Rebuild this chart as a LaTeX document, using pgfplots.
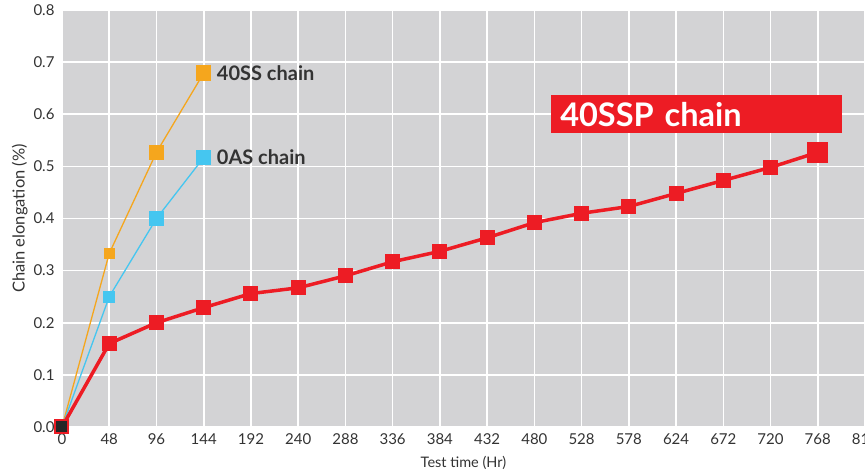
\documentclass[border=0pt]{standalone}
\usepackage{pgfplots}
\pgfplotsset{compat=1.18}
\usepackage{fontspec}
\setmainfont{Lato}
\definecolor{bggray}{HTML}{D3D3D5}
\definecolor{redc}{HTML}{ED1C24}
\definecolor{orangec}{HTML}{F5A61D}
\definecolor{bluec}{HTML}{45C6F0}
\definecolor{txt}{HTML}{333333}
\begin{document}
\begin{tikzpicture}
\begin{axis}[
  at={(0,0)}, anchor=south west,
  scale only axis, width=803pt, height=417pt,
  xmin=0, xmax=816, ymin=0, ymax=0.8,
  axis background/.style={fill=bggray},
  axis line style={draw=none},
  xtick={0,48,...,816},
  xticklabels={0,48,96,144,192,240,288,336,384,432,480,528,578,624,672,720,768,816},
  ytick={0,0.1,...,0.8},
  yticklabels={0.0,0.1,0.2,0.3,0.4,0.5,0.6,0.7,0.8},
  major tick length=0pt,
  grid=major,
  grid style={white, line width=1.6pt},
  tick label style={font=\fontsize{15}{17}\selectfont, text=txt},
  xticklabel style={yshift=-3pt},
  yticklabel style={xshift=-4pt},
  /pgf/number format/assume math mode=true,
  xlabel={Test time (Hr)},
  ylabel={Chain elongation (\%)},
  xlabel style={font=\fontsize{14.5}{16}\selectfont, text=txt, yshift=-5pt},
  ylabel style={font=\fontsize{16.5}{18}\selectfont, text=txt, yshift=-1pt},
  clip=false,
]
% 40SS chain (orange)
\addplot[orangec, line width=1.3pt, mark=square*, mark size=5pt, mark options={fill=orangec, draw=orangec}]
  coordinates {(0,0) (48,0.333) (96,0.527)};
\addplot[orangec, line width=1.3pt, mark=square*, mark size=7pt, mark options={fill=orangec, draw=orangec}]
  coordinates {(96,0.527) (144,0.679)};
\addplot[orangec, only marks, mark=square*, mark size=5pt, mark options={fill=orangec, draw=orangec}]
  coordinates {(96,0.527)};
% 0AS chain (blue)
\addplot[bluec, line width=1.3pt, mark=square*, mark size=5.5pt, mark options={fill=bluec, draw=bluec}]
  coordinates {(0,0) (48,0.25) (96,0.40)};
\addplot[bluec, line width=1.3pt, mark=square*, mark size=7pt, mark options={fill=bluec, draw=bluec}]
  coordinates {(96,0.40) (144,0.517)};
\addplot[bluec, only marks, mark=square*, mark size=5.5pt, mark options={fill=bluec, draw=bluec}]
  coordinates {(96,0.40)};
% 40SSP chain (red)
\addplot[redc, line width=3.5pt, mark=square*, mark size=7pt, mark options={fill=redc, draw=redc, line width=0pt}]
  coordinates {(0,0) (48,0.16) (96,0.20) (144,0.229) (192,0.256) (240,0.267) (288,0.29) (336,0.317) (384,0.337) (432,0.363) (480,0.392) (528,0.41) (576,0.423) (624,0.448) (672,0.473) (720,0.498) (768,0.527)};
\addplot[redc, only marks, mark=square*, mark size=10pt, mark options={fill=redc, draw=redc, line width=0pt}]
  coordinates {(768,0.527)};
\addplot[black!85, only marks, mark=square*, mark size=5pt, mark options={fill=black!85, draw=black!85, line width=0pt}]
  coordinates {(0,0)};
% labels
\node[anchor=west, font=\fontsize{20}{22}\selectfont\bfseries, text=txt, inner sep=0pt] at (axis cs:144,0.679) [xshift=13pt] {40SS chain};
\node[anchor=west, font=\fontsize{20}{22}\selectfont\bfseries, text=txt, inner sep=0pt] at (axis cs:144,0.517) [xshift=13pt] {0AS chain};
\node[anchor=west, fill=redc, text=white, font=\fontsize{32.5}{34}\selectfont\bfseries, minimum width=291pt, minimum height=38pt, text width=273pt, inner xsep=9pt, inner ysep=0pt, align=left] at (axis cs:497,0.6) {40SSP chain};
\end{axis}
\pgfresetboundingbox
\path[use as bounding box] (-62pt,-49pt) rectangle (803pt,427pt);
\end{tikzpicture}
\end{document}
